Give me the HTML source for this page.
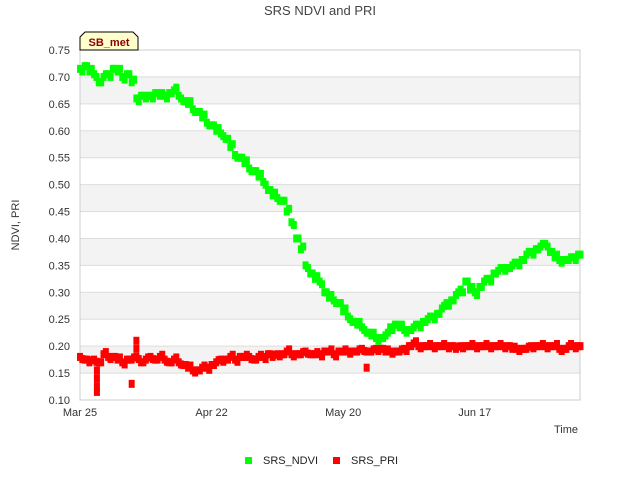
<!DOCTYPE html>
<html><head><meta charset="utf-8"><style>
body{margin:0;background:#fff;font-family:"Liberation Sans",sans-serif;}
</style></head><body>
<svg width="640" height="480" id="c" font-family="Liberation Sans, sans-serif">
<text x="320" y="15" text-anchor="middle" font-size="13" fill="#444">SRS NDVI and PRI</text>
<g id="bands"></g>
<g id="grid"></g>
<rect x="80" y="50" width="500" height="350" fill="none" stroke="#ccc"/>
<g id="ylab"></g><g id="xlab"></g>
<g id="marks"></g>
<text x="19" y="225" transform="rotate(-90 19 225)" text-anchor="middle" font-size="11" fill="#333">NDVI, PRI</text>
<text x="578" y="433" text-anchor="end" font-size="11" fill="#333">Time</text>
<g>
<path d="M80,50 L80,37 L85,32 L133,32 L138,37 L138,50 Z" fill="#ffffcc" stroke="#000"/>
<text x="109" y="46" text-anchor="middle" font-size="11" font-weight="bold" fill="#8b0000">SB_met</text></g>
<g>
<rect x="245" y="457" width="7" height="7" fill="#00ff00"/>
<text x="263" y="464" font-size="11" fill="#222">SRS_NDVI</text>
<rect x="333" y="457" width="7" height="7" fill="#ff0000"/>
<text x="351" y="464" font-size="11" fill="#222">SRS_PRI</text></g>
</svg>
<script>
const yTicks=[0.10,0.15,0.20,0.25,0.30,0.35,0.40,0.45,0.50,0.55,0.60,0.65,0.70,0.75];
const xTickLabels=["Mar 25","Apr 22","May 20","Jun 17"];
const xTickDays=[0,28,56,84];
const ndvi=[.715,.72,.71,.705,.69,.70,.705,.715,.71,.70,.705,.69,
.66,.665,.66,.665,.67,.665,.665,.67,.675,
.665,.655,.65,.64,.635,.625,.615,.61,.60,.595,
.585,.57,.555,.55,.54,.53,.525,.515,.505,.49,
.48,.475,.47,.45,.43,.40,.38,.35,.335,.325,
.32,.30,.29,.285,.28,.265,.255,.245,.24,.235,
.225,.22,.215,.215,.22,.235,.24,.235,.23,.23,
.235,.24,.245,.25,.255,.26,.27,.28,.285,.295,
.305,.32,.305,.30,.31,.32,.325,.335,.34,.345,
.345,.35,.355,.36,.37,.375,.38,.385,.39,.375,
.365,.36,.36,.36,.365,.37];
const pri=[.18,.175,.17,.175,.17,.185,.18,.18,.175,.17,.175,
.175,.18,.17,.175,.18,.175,.18,.175,.17,.175,
.17,.165,.16,.155,.155,.16,.16,.165,.17,.175,
.175,.18,.175,.18,.18,.18,.175,.18,.18,.185,
.18,.185,.185,.19,.185,.185,.185,.19,.185,.185,
.185,.19,.19,.185,.19,.19,.19,.19,.19,.195,
.19,.19,.195,.195,.19,.19,.19,.19,.195,.20,
.205,.20,.20,.20,.20,.20,.20,.20,.20,.195,
.20,.20,.20,.20,.20,.20,.20,.20,.20,.20,
.20,.195,.195,.195,.195,.20,.20,.20,.20,.20,
.20,.195,.195,.20,.20,.20];
const priOutDays=[3.6,3.6,3.6,3.6,11,12,12,61];
const priOutVals=[.115,.125,.14,.155,.13,.21,.195,.16];
const X0=80,X1=580,Y0=400,Y1=50,DMAX=106.4;
const sx=d=>X0+(d/DMAX)*(X1-X0);
const sy=v=>Y0-(v-0.10)/(0.65)*(Y0-Y1);
const NS="http://www.w3.org/2000/svg";
function mk(t,a,p){const e=document.createElementNS(NS,t);for(const k in a)e.setAttribute(k,a[k]);p.appendChild(e);return e;}
const bands=document.getElementById('bands'),grid=document.getElementById('grid'),yl=document.getElementById('ylab'),xl=document.getElementById('xlab'),marks=document.getElementById('marks');
for(let i=0;i<yTicks.length-1;i++){
 if(i%2===1){const r=mk('rect',{x:X0,y:sy(yTicks[i+1]),width:X1-X0,height:sy(yTicks[i])-sy(yTicks[i+1]),fill:'#f3f3f3'},bands);
 
 }
}
yTicks.forEach(v=>{
 const l=mk('line',{x1:X0,x2:X1,y1:sy(v),y2:sy(v),stroke:'#ddd'},grid);
 
 
 const t=mk('text',{x:X0-10,y:sy(v)+4,'text-anchor':'end','font-size':'11',fill:'#333'},yl);
 t.textContent=v.toFixed(2);
 
 
});
xTickDays.forEach((d,i)=>{
 const t=mk('text',{x:sx(d),y:416,'text-anchor':'middle','font-size':'11',fill:'#333'},xl);
 t.textContent=xTickLabels[i];
 
 
});
function pt(d,v,c,n){
 const r=mk('rect',{x:sx(d)-3,y:sy(v)-4,width:6,height:8,fill:c},marks);
 
 
}
pri.forEach((v,i)=>{pt(i,v,'#ff0000','pri-point');pt(i+0.5,v+0.004*((i%3)-1),'#ff0000','pri-point');});
priOutDays.forEach((d,i)=>pt(d,priOutVals[i],'#ff0000','pri-outlier'));
ndvi.forEach((v,i)=>{pt(i,v,'#00ff00','ndvi-point');pt(i+0.5,v+0.005*((i%3)-1),'#00ff00','ndvi-point');});
</script>
</body></html>
